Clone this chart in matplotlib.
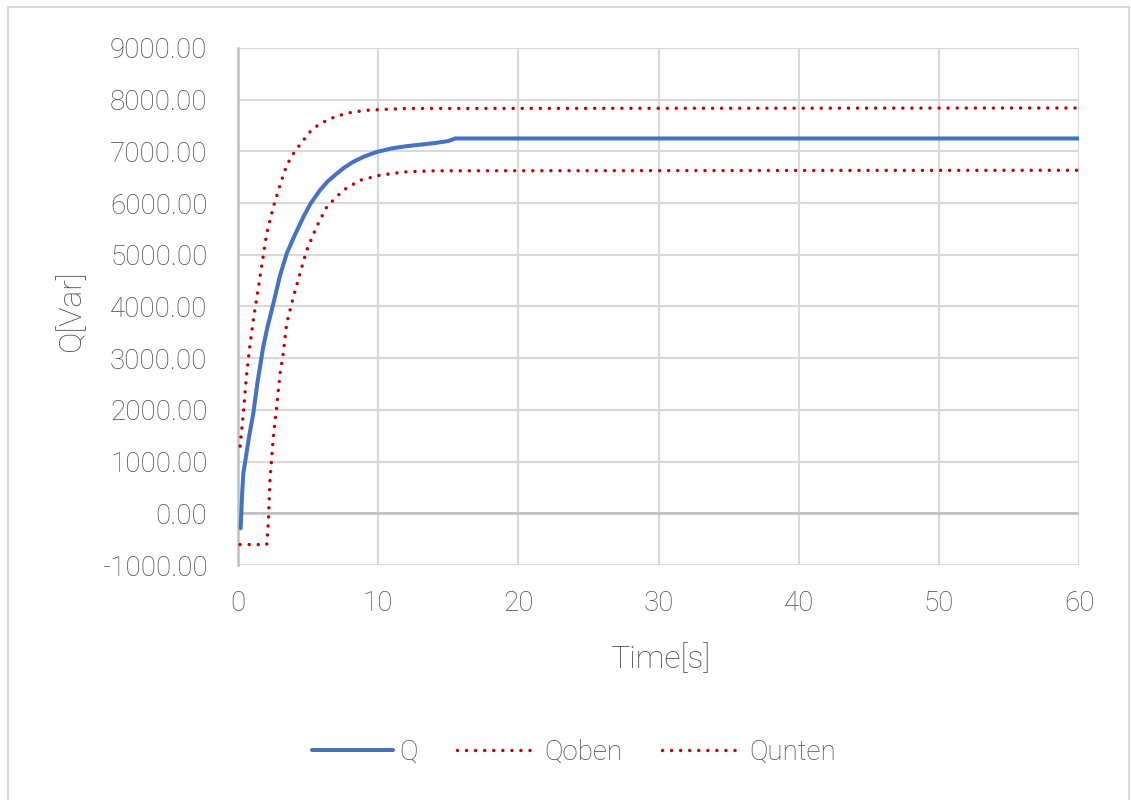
import matplotlib
matplotlib.use("Agg")
import matplotlib.pyplot as plt
from matplotlib.patches import Rectangle

plt.rcParams['font.family'] = ['Roboto', 'Liberation Sans', 'DejaVu Sans']
plt.rcParams['font.weight'] = 'light'

# Q (measured reactive power)
t_q = [0.19, 0.30, 0.38, 0.60, 0.80, 1.09, 1.40, 1.80, 2.10, 2.52, 3.00, 3.47, 4.00, 4.66,
       5.20, 5.85, 6.40, 7.04, 7.60, 8.20, 9.00, 9.90, 11.0, 12.0, 13.0, 14.0, 15.0, 15.5,
       20.0, 30.0, 40.0, 50.0, 60.0]
q_vals = [-290, 400, 770, 1150, 1500, 1930, 2550, 3220, 3600, 4055, 4600, 5020, 5350, 5730,
          6000, 6250, 6420, 6570, 6690, 6795, 6900, 6990, 7060, 7100, 7130, 7160, 7200, 7250,
          7250, 7250, 7250, 7250, 7250]

# Qoben (upper limit)
t_oben = [0.15, 0.38, 0.62, 0.85, 1.09, 1.57, 2.05, 2.52, 3.00, 3.47, 4.00, 4.66, 5.20, 5.85,
          7.00, 8.20, 9.40, 10.6, 12.0, 60.0]
q_oben = [1300, 1930, 2700, 3250, 3730, 4570, 5410, 5925, 6350, 6730, 6980, 7215, 7400, 7537,
          7680, 7762, 7800, 7815, 7830, 7840]

# Qunten (lower limit)
t_unten = [0.15, 2.05, 2.16, 2.28, 2.52, 2.76, 3.00, 3.23, 3.47, 3.95, 4.42, 4.90, 5.60, 6.33,
           7.50, 8.70, 10.1, 11.8, 14.0, 60.0]
q_unten = [-605, -605, -200, 638, 1476, 2056, 2702, 3089, 3669, 4184, 4636, 5087, 5538, 5925,
           6248, 6441, 6538, 6602, 6625, 6635]

x_ticks = [0, 10, 20, 30, 40, 50, 60]
y_ticks = [-1000, 0, 1000, 2000, 3000, 4000, 5000, 6000, 7000, 8000, 9000]

fig = plt.figure(figsize=(11.31, 8.0), dpi=100)
fig.patch.set_facecolor('white')
ax = fig.add_axes([238/1131, 1-565/800, (1079-238)/1131, (565-48)/800])

blue = '#4472C4'
red = '#C00000'
txt = '#4A4A4A'
dot = (0, (0.01, 2.6))

ax.plot(t_q, q_vals, color=blue, lw=2.9, solid_capstyle='round', label='Q', zorder=4)
ax.plot(t_oben, q_oben, color=red, lw=2.5, linestyle=dot, dash_capstyle='round', label='Qoben', zorder=3)
ax.plot(t_unten, q_unten, color=red, lw=2.5, linestyle=dot, dash_capstyle='round', label='Qunten', zorder=3)

ax.set_xlim(0, 60)
ax.set_ylim(-1000, 9000)
ax.set_xticks(x_ticks)
ax.set_yticks(y_ticks)
ax.set_yticklabels([f"{v:.2f}" for v in y_ticks])
ax.grid(True, color='#D9D9D9', lw=1.5, zorder=0)
ax.set_axisbelow(True)
ax.axhline(0, color='#BFBFBF', lw=1.8, zorder=1)
for s in ['top', 'right', 'bottom']:
    ax.spines[s].set_visible(False)
ax.spines['left'].set_color('#BFBFBF')
ax.spines['left'].set_linewidth(1.8)
ax.tick_params(length=0, labelsize=20, labelcolor=txt)
ax.tick_params(axis='y', pad=22)
ax.tick_params(axis='x', pad=18)

ax.set_xlabel('Time[s]', fontsize=23, color=txt, fontweight='light')
ax.set_ylabel('Q[Var]', fontsize=23, color=txt, fontweight='light')
ax.yaxis.set_label_coords((86-238)/(1079-238), (565-310)/(565-48))
ax.xaxis.set_label_coords((660-238)/(1079-238), -(643-565)/(565-48))

leg = fig.legend(loc='center', bbox_to_anchor=(574/1131, 1-752/800), ncol=3, frameon=False,
                 fontsize=20, labelcolor=txt, handlelength=2.9, columnspacing=1.4,
                 handletextpad=0.25)

fig.add_artist(Rectangle((8/1131, -0.05), (1129-8)/1131, 1.05-7/800, transform=fig.transFigure,
                         fill=False, edgecolor='#D9D9D9', lw=1.5))

fig.savefig('out.png', dpi=100)
